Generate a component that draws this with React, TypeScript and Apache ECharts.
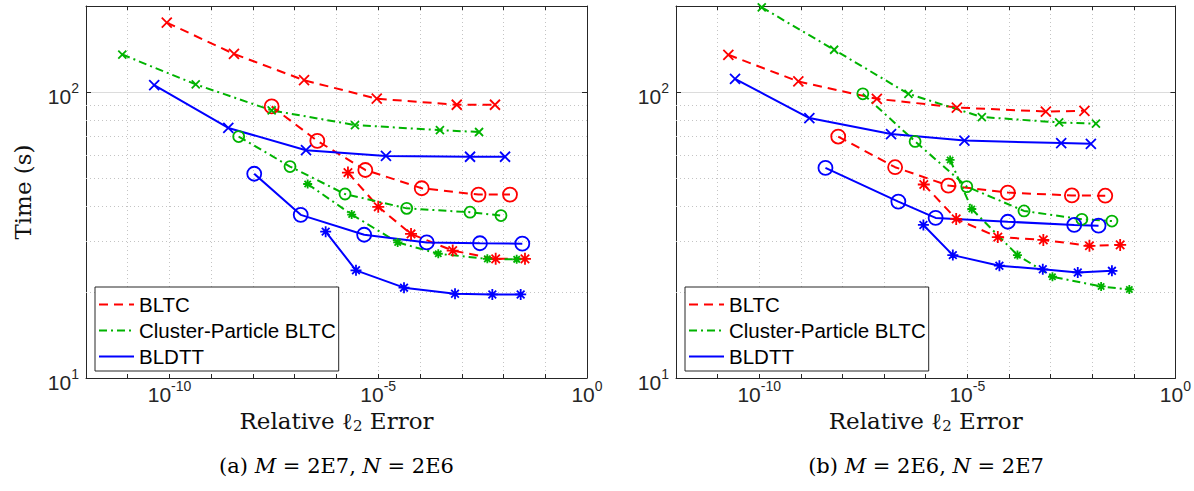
import { useEffect, useRef } from 'react';
import * as echarts from 'echarts';

// ---------------- Data ----------------
// Panel (a): M = 2E7, N = 2E6
const aBltcCrossErr = [8.6e-11, 3.5e-9, 1.67e-7, 9.2e-6, 7.6e-4, 6.25e-3];
const aBltcCrossTime = [175, 136, 110, 94.8, 90.3, 90.3];
const aBltcCircleErr = [2.8e-8, 3.47e-7, 4.9e-6, 1.1e-4, 2.52e-3, 1.43e-2];
const aBltcCircleTime = [89.1, 67.5, 53.4, 46.1, 43.8, 43.8];
const aBltcStarErr = [1.88e-6, 1.0e-5, 6.1e-5, 6.07e-4, 6.5e-3, 3.27e-2];
const aBltcStarTime = [52.3, 39.7, 31.9, 27.9, 26.1, 26.1];
const aCpCrossErr = [7.4e-12, 4.25e-10, 2.8e-8, 2.77e-6, 3.0e-4, 2.6e-3];
const aCpCrossTime = [135.3, 106.4, 86.3, 76.7, 73.6, 72.5];
const aCpCircleErr = [4.54e-9, 7.7e-8, 1.6e-6, 4.8e-5, 1.58e-3, 8.7e-3];
const aCpCircleTime = [69.9, 54.9, 44.0, 39.2, 38.0, 37.0];
const aCpStarErr = [2.04e-7, 2.31e-6, 2.92e-5, 2.74e-4, 4.1e-3, 2.07e-2];
const aCpStarTime = [47.7, 37.3, 29.8, 27.2, 26.1, 26.0];
const aBldttCrossErr = [4.3e-11, 2.56e-9, 1.86e-7, 1.53e-5, 1.58e-3, 1.09e-2];
const aBldttCrossTime = [105.8, 74.9, 62.6, 59.8, 59.4, 59.4];
const aBldttCircleErr = [1.07e-8, 1.39e-7, 4.6e-6, 1.45e-4, 2.73e-3, 2.82e-2];
const aBldttCircleTime = [51.8, 37.2, 31.7, 29.8, 29.6, 29.5];
const aBldttStarErr = [5.5e-7, 2.93e-6, 4.14e-5, 6.9e-4, 5.4e-3, 2.58e-2];
const aBldttStarTime = [32.5, 23.8, 20.7, 19.7, 19.6, 19.6];

// Panel (b): M = 2E6, N = 2E7
const bBltcCrossErr = [1.81e-11, 8.7e-10, 6.7e-8, 5.6e-6, 7.7e-4, 6.5e-3];
const bBltcCrossTime = [135, 108.9, 94.7, 88.3, 85.5, 86.0];
const bBltcCircleErr = [7.9e-9, 1.84e-7, 3.5e-6, 9.4e-5, 3.25e-3, 2.06e-2];
const bBltcCircleTime = [69.9, 54.6, 47.1, 44.5, 43.5, 43.4];
const bBltcStarErr = [9.0e-7, 5.4e-6, 5.4e-5, 6.7e-4, 8.6e-3, 4.7e-2];
const bBltcStarTime = [47.5, 36.0, 31.1, 30.4, 29.0, 29.2];
const bCpCrossErr = [1.15e-10, 6.3e-9, 3.84e-7, 2.23e-5, 1.61e-3, 1.23e-2];
const bCpCrossTime = [197.8, 140.6, 98.6, 81.8, 78.3, 77.5];
const bCpCircleErr = [3.08e-8, 5.56e-7, 9.7e-6, 2.3e-4, 5.65e-3, 2.98e-2];
const bCpCircleTime = [98.6, 67.2, 46.7, 38.4, 35.9, 35.4];
const bCpStarErr = [3.86e-6, 1.28e-5, 1.6e-4, 1.11e-3, 1.64e-2, 7.8e-2];
const bCpStarTime = [57.9, 39.0, 26.9, 22.6, 20.9, 20.4];
const bBldttCrossErr = [2.62e-11, 1.6e-9, 1.47e-7, 8.5e-6, 1.8e-3, 9.3e-3];
const bBldttCrossTime = [111.3, 81.1, 71.3, 67.7, 66.3, 65.9];
const bBldttCircleErr = [3.9e-9, 2.2e-7, 1.73e-6, 9.4e-5, 3.7e-3, 1.42e-2];
const bBldttCircleTime = [54.3, 41.4, 36.3, 35.2, 34.3, 34.1];
const bBldttStarErr = [8.8e-7, 4.48e-6, 5.9e-5, 6.5e-4, 4.5e-3, 2.98e-2];
const bBldttStarTime = [34.3, 26.9, 24.7, 24.0, 23.4, 23.7];

const methods = ['BLTC', 'Cluster-Particle BLTC', 'BLDTT'];
const markerNames = ['×', 'o', '*'];
const captions = [
  ['(a) ', 'M', ' = 2E7, ', 'N', ' = 2E6'],
  ['(b) ', 'M', ' = 2E6, ', 'N', ' = 2E7'],
];
const xLabelExponents = [-10, -5, 0];
const yLabelExponents = [1, 2];
const xMajorGrid = [1e-10, 1e-5];
const yMinorGrid = [20, 30, 40, 50, 60, 70, 80, 90];
const xTitle = ['Relative ', 'ℓ', '2', ' Error'];
const yTitle = 'Time (s)';

// ---------------- Styles ----------------
const SANS = '"Liberation Sans", Arial, Helvetica, sans-serif';
const SERIF = '"DejaVu Serif", "Liberation Serif", serif';
const AX = '#262626';
const COLORS = ['#ff0000', '#00b300', '#0000ff'];
const DASH: any[] = [[9, 6], [8, 4, 2, 4], 'solid'];
const SYMBOLS = [
  'path://M0,0L10,10M10,0L0,10',
  'path://M10,5A5,5,0,1,1,0,5A5,5,0,1,1,10,5Z',
  'path://M5,0L5,10M0,5L10,5M1.5,1.5L8.5,8.5M8.5,1.5L1.5,8.5',
];
const SIZES = [
  [10, 14, 12],
  [8, 11, 9],
  [10, 14, 11],
];

const panels = [
  [
    [0, 0, aBltcCrossErr, aBltcCrossTime],
    [0, 1, aBltcCircleErr, aBltcCircleTime],
    [0, 2, aBltcStarErr, aBltcStarTime],
    [1, 0, aCpCrossErr, aCpCrossTime],
    [1, 1, aCpCircleErr, aCpCircleTime],
    [1, 2, aCpStarErr, aCpStarTime],
    [2, 0, aBldttCrossErr, aBldttCrossTime],
    [2, 1, aBldttCircleErr, aBldttCircleTime],
    [2, 2, aBldttStarErr, aBldttStarTime],
  ],
  [
    [0, 0, bBltcCrossErr, bBltcCrossTime],
    [0, 1, bBltcCircleErr, bBltcCircleTime],
    [0, 2, bBltcStarErr, bBltcStarTime],
    [1, 0, bCpCrossErr, bCpCrossTime],
    [1, 1, bCpCircleErr, bCpCircleTime],
    [1, 2, bCpStarErr, bCpStarTime],
    [2, 0, bBldttCrossErr, bBldttCrossTime],
    [2, 1, bBldttCircleErr, bBldttCircleTime],
    [2, 2, bBldttStarErr, bBldttStarTime],
  ],
] as any[];

const tickRich = {
  b: { fontFamily: SANS, fontSize: 21, lineHeight: 22, padding: [8, 0, 0, 0], color: AX },
  s: { fontFamily: SANS, fontSize: 14, lineHeight: 18, verticalAlign: 'top', color: AX },
};
const titleRich = {
  n: { fontFamily: SERIF, fontSize: 23, lineHeight: 26, color: '#111' },
  sub: { fontFamily: SERIF, fontSize: 15, lineHeight: 14, verticalAlign: 'bottom', color: '#111' },
};
const captionRich = {
  n: { fontFamily: SERIF, fontSize: 21, lineHeight: 26, color: '#111' },
  i: { fontFamily: SERIF, fontSize: 21, lineHeight: 26, fontStyle: 'italic', color: '#111' },
};

const GRIDS = [
  { left: 86, top: 6, width: 501, height: 372 },
  { left: 676, top: 6, width: 500, height: 372 },
];

function buildOption() {
  const xAxis: any[] = [];
  const yAxis: any[] = [];
  const series: any[] = [];
  const graphic: any[] = [];

  GRIDS.forEach((g, gi) => {
    const xBase = {
      type: 'log', logBase: 10, min: 1e-12, max: 1, interval: 1, gridIndex: gi,
      axisLine: { show: true, lineStyle: { color: AX, width: 1 } },
      axisTick: { show: true, inside: true, length: 4, lineStyle: { color: AX } },
    };
    xAxis.push({
      ...xBase, position: 'bottom',
      axisLabel: {
        show: true, margin: 1, showMinLabel: true, showMaxLabel: true,
        formatter: (v: number) => {
          const e = Math.round(Math.log10(v));
          return xLabelExponents.indexOf(e) >= 0 ? `{b|10}{s|${e}}` : '';
        },
        rich: tickRich,
      },
      splitLine: { show: true, lineStyle: { color: '#c4c4c4', type: [1, 3], width: 1 } },
      name: `{n|${xTitle[0]}}{n|${xTitle[1]}}{sub|${xTitle[2]}}{n|${xTitle[3]}}`,
      nameLocation: 'middle', nameGap: 16,
      nameTextStyle: { rich: titleRich },
    });
    xAxis.push({ ...xBase, position: 'top', axisLabel: { show: false }, splitLine: { show: false } });

    const yBase = {
      type: 'log', logBase: 10, min: 10, max: 200, interval: 1, gridIndex: gi,
      axisLine: { show: true, lineStyle: { color: AX, width: 1 } },
      axisTick: { show: true, inside: true, length: 5, lineStyle: { color: AX } },
    };
    yAxis.push({
      ...yBase, position: 'left',
      axisLabel: {
        show: true, margin: 7, showMinLabel: true,
        formatter: (v: number) => {
          const e = Math.round(Math.log10(v));
          return Math.abs(Math.log10(v) - e) < 1e-6 && yLabelExponents.indexOf(e) >= 0 ? `{b|10}{s|${e}}` : '';
        },
        rich: tickRich,
      },
      splitLine: { show: true, lineStyle: { color: '#dcdcdc', width: 1 } },
      name: gi === 0 ? yTitle : '',
      nameLocation: 'middle', nameGap: 52, nameRotate: 90,
      nameTextStyle: { fontFamily: SERIF, fontSize: 23, color: '#111' },
    });
    yAxis.push({ ...yBase, position: 'right', axisLabel: { show: false }, splitLine: { show: false } });

    // grid decoration: dotted minor y lines and solid major x lines
    series.push({
      type: 'line', name: `grid-${gi}`, xAxisIndex: gi * 2, yAxisIndex: gi * 2, data: [],
      silent: true,
      markLine: {
        silent: true, symbol: 'none', z: 1, animation: false,
        label: { show: false },
        data: [
          ...yMinorGrid.map((v) => ({ yAxis: v, lineStyle: { color: '#c4c4c4', type: [1, 3], width: 1 } })),
          ...xMajorGrid.map((v) => ({ xAxis: v, lineStyle: { color: '#dcdcdc', type: 'solid', width: 1 } })),
        ],
      },
    });

    panels[gi].forEach((p: any) => {
      const [m, k, err, time] = p;
      series.push({
        type: 'line',
        name: `${methods[m]} ${markerNames[k]} (${gi === 0 ? 'a' : 'b'})`,
        xAxisIndex: gi * 2, yAxisIndex: gi * 2,
        data: err.map((e: number, i: number) => [e, time[i]]),
        symbol: SYMBOLS[k],
        symbolSize: SIZES[m][k],
        showAllSymbol: true,
        lineStyle: { color: COLORS[m], width: 2, type: DASH[m] },
        itemStyle: { color: 'transparent', borderColor: COLORS[m], borderWidth: 1.8 },
        z: 3, silent: true,
      });
    });

    const c = captions[gi];
    graphic.push({
      type: 'text',
      x: g.left + g.width / 2, y: 466,
      style: {
        text: `{n|${c[0]}}{i|${c[1]}}{n|${c[2]}}{i|${c[3]}}{n|${c[4]}}`,
        rich: captionRich, align: 'center', verticalAlign: 'middle',
      },
    });
  });

  // legend-only series
  methods.forEach((name, m) => {
    series.push({
      type: 'line', name, xAxisIndex: 0, yAxisIndex: 0, data: [], symbol: 'none',
      lineStyle: { color: COLORS[m], width: 2, type: DASH[m] },
      itemStyle: { color: COLORS[m] },
    });
  });

  const legend = GRIDS.map((g) => ({
    left: g.left + 9, top: 287, orient: 'vertical',
    data: methods,
    itemWidth: 35, itemHeight: 14, itemGap: 5,
    padding: [7, 3, 4, 3],
    borderColor: AX, borderWidth: 1, backgroundColor: '#ffffff',
    textStyle: { fontFamily: SANS, fontSize: 20.5, lineHeight: 20, color: '#000' },
    itemStyle: { opacity: 0 },
    selectedMode: false,
    z: 10,
  }));

  return {
    animation: false,
    backgroundColor: '#ffffff',
    grid: GRIDS,
    xAxis, yAxis, series, legend, graphic,
  };
}

export default function App() {
  const ref = useRef<HTMLDivElement>(null);
  useEffect(() => {
    if (!ref.current) return;
    const chart = echarts.init(ref.current, undefined, { renderer: 'svg' });
    chart.setOption(buildOption() as any);
    return () => chart.dispose();
  }, []);
  return (
    <div
      ref={ref}
      style={{ position: 'fixed', left: 0, top: 0, width: 1194, height: 491, background: '#fff' }}
    />
  );
}
